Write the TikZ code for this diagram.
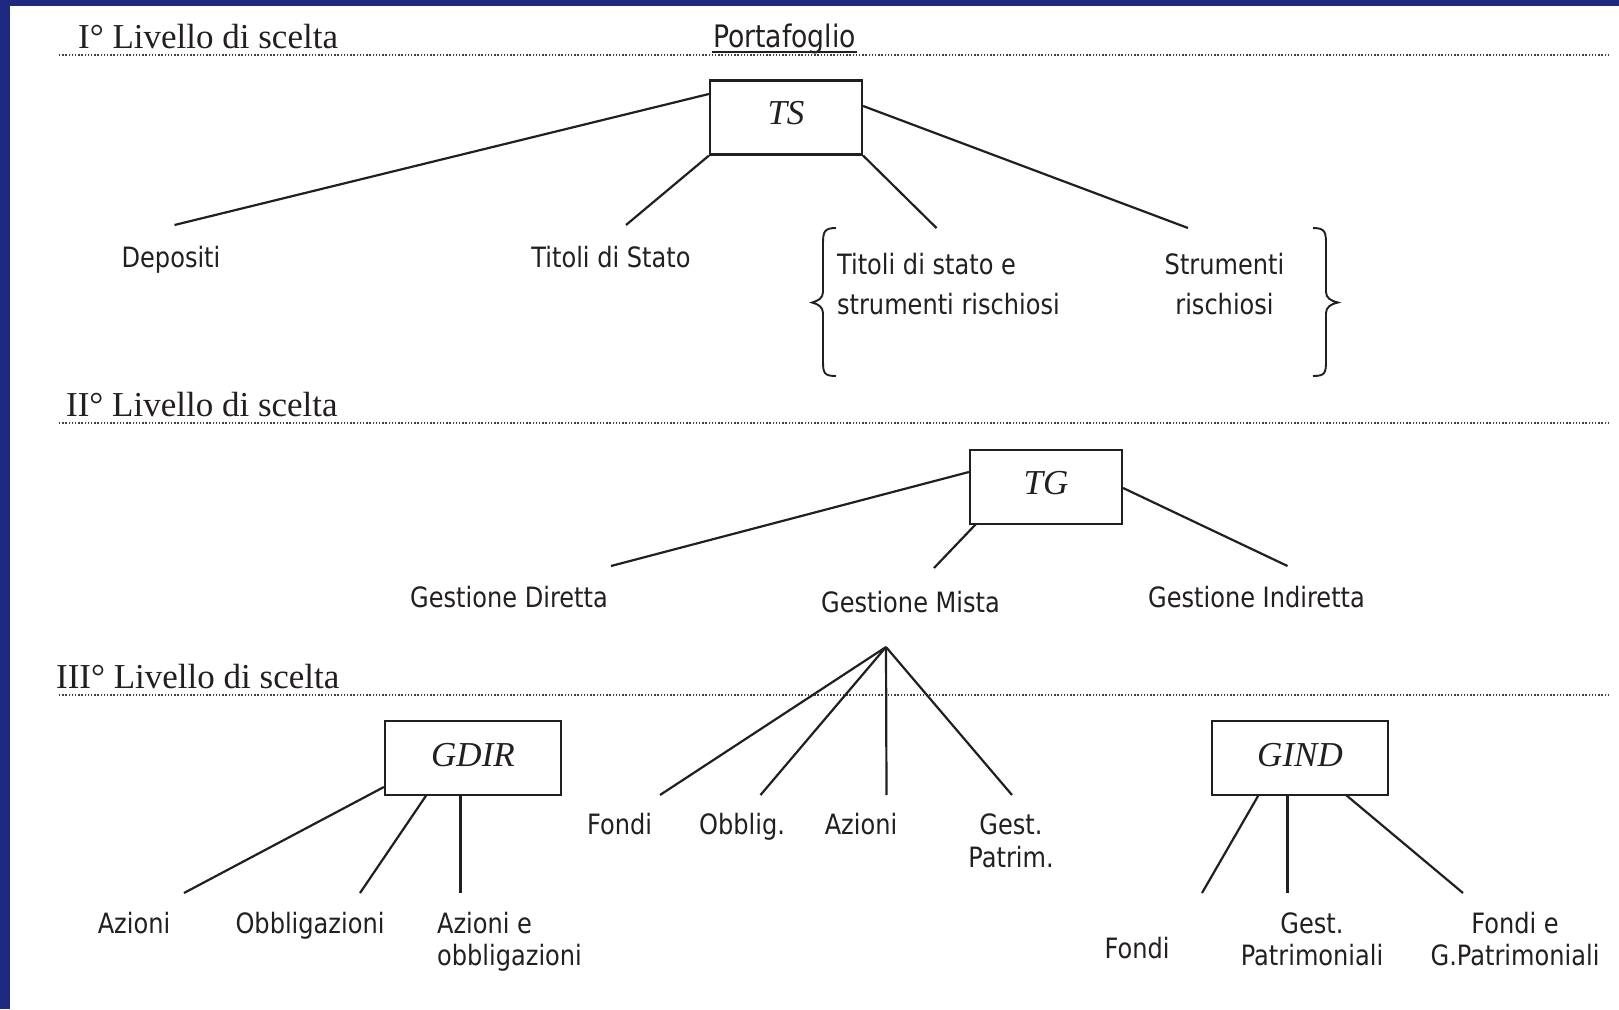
\documentclass[tikz,border=0pt]{standalone}
\usepackage{fontspec}
\setmainfont{Liberation Serif}
\newfontfamily\tsf[FakeStretch=0.86]{DejaVu Sans}
\usetikzlibrary{calc}
\definecolor{ink}{HTML}{231F20}
\definecolor{frame}{HTML}{1D2A80}
\begin{document}
\begin{tikzpicture}[x=1pt,y=-1pt,
  ink, line width=2.2pt,
  lvl/.style={anchor=base west, inner sep=0pt, font=\fontsize{35}{40}\selectfont, text=ink},
  sep/.style={draw=ink!85, line width=1.7pt, dash pattern=on 1.4pt off 1.8pt},
  lab/.style={anchor=base, inner sep=0pt, font=\tsf\fontsize{28}{33}\selectfont, text=ink, align=center},
  boxn/.style={draw=ink, line width=2.2pt, minimum width=#1, minimum height=74pt, inner sep=0pt},
  boxt/.style={anchor=base, inner sep=0pt, font=\itshape\fontsize{35}{40}\selectfont, text=ink}
]
\useasboundingbox (0,0) rectangle (1619,1009);
\fill[white] (0,0) rectangle (1619,1009);
\fill[frame] (0,0) rectangle (1619,6);
\fill[frame] (0,0) rectangle (10,1009);

% level labels and separators
\node[lvl] (l1) at (77,48.5) {I° Livello di scelta};
\draw[sep] (59,55) -- (1610,55);
\node[lvl] (l2) at (65,416) {II° Livello di scelta};
\draw[sep] (59,423) -- (1610,423);
\node[lvl] (l3) at (55,688) {III° Livello di scelta};
\draw[sep] (59,695) -- (1610,695);

\node[lab, font=\tsf\fontsize{31}{36}\selectfont] (port) at (784.5,47) {Portafoglio};
\draw[line width=2.8pt] ($(port.base west)+(0,5)$) -- ($(port.base east)+(0,5)$);

% Level I
\node[boxn=152pt] (ts) at (786,117.5) {};
\node[boxt] (tst) at (786,124) {TS};
\node[lab] (dep) at (171,267) {Depositi};
\node[lab] (tds) at (611,267) {Titoli di Stato};
\node[lab, anchor=base west, align=left, font=\tsf\fontsize{28}{39.5}\selectfont] (tse) at (836,314) {Titoli di stato e\\strumenti rischiosi};
\node[lab, font=\tsf\fontsize{28}{39.5}\selectfont] (str) at (1224.5,314) {Strumenti\\rischiosi};
\coordinate (c1) at (174.5,225);
\coordinate (c2) at (626,225);
\coordinate (c3) at (936.5,228);
\coordinate (c4) at (1188,228);
\draw (ts.west |- 0,94) -- (c1);
\draw (ts.south west) -- (c2);
\draw (ts.south east) -- (c3);
\draw (ts.east |- 0,106) -- (c4);
% braces
\draw[line width=1.9pt] (836,228) .. controls (824,228) and (823,232) .. (823,244) -- (823,292)
  .. controls (823,298) and (818,301) .. (812,302.5)
  .. controls (818,304) and (823,307) .. (823,313) -- (823,361)
  .. controls (823,373) and (824,376) .. (836,376);
\draw[line width=1.9pt] (1313,228) .. controls (1325,228) and (1326,232) .. (1326,244) -- (1326,292)
  .. controls (1326,298) and (1331,301) .. (1338,302.5)
  .. controls (1331,304) and (1326,307) .. (1326,313) -- (1326,361)
  .. controls (1326,373) and (1325,376) .. (1313,376);

% Level II
\node[boxn=152pt] (tg) at (1046,487) {};
\node[boxt] (tgt) at (1046,494) {TG};
\node[lab] (gd) at (509,607) {Gestione Diretta};
\node[lab] (gm) at (910.5,612) {Gestione Mista};
\node[lab] (gi) at (1256.5,607) {Gestione Indiretta};
\coordinate (d1) at (611,566);
\coordinate (d2) at (934,568);
\coordinate (d3) at (1287.5,566);
\draw (tg.west |- 0,472) -- (d1);
\draw (976,524) -- (d2);
\draw (tg.east |- 0,488) -- (d3);

% Level III - mista fan
\coordinate (fan) at (886,647);
\node[lab] (mf) at (619.5,834) {Fondi};
\node[lab] (mo) at (742,834) {Obblig.};
\node[lab] (ma) at (861,834) {Azioni};
\node[lab, font=\tsf\fontsize{28}{33}\selectfont] (mg) at (1011,867) {Gest.\\Patrim.};
\draw (fan) -- (660,795);
\draw (fan) -- (760.5,795);
\draw (fan) -- (886.5,795);
\draw (fan) -- (1012,795);

% GDIR
\node[boxn=176pt] (gdir) at (473,758) {};
\node[boxt] (gdirt) at (473,766) {GDIR};
\node[lab] (ra) at (134,933) {Azioni};
\node[lab] (ro) at (310,933) {Obbligazioni};
\node[lab, anchor=base west, align=left, font=\tsf\fontsize{28}{32}\selectfont] (rao) at (436,965) {Azioni e\\obbligazioni};
\draw (gdir.west |- 0,787) -- (184,893);
\draw (426.5,795) -- (360,893);
\draw (460.5,795) -- (460.5,893);

% GIND
\node[boxn=176pt] (gind) at (1300,758) {};
\node[boxt] (gindt) at (1300,766) {GIND};
\node[lab] (nf) at (1137,958) {Fondi};
\node[lab, font=\tsf\fontsize{28}{32}\selectfont] (ng) at (1312,965) {Gest.\\Patrimoniali};
\node[lab, font=\tsf\fontsize{28}{32}\selectfont] (nfg) at (1515,965) {Fondi e\\G.Patrimoniali};
\draw (1258.6,795) -- (1202,893);
\draw (1287.5,795) -- (1287.5,893);
\draw (1346,795) -- (1463,893);
\end{tikzpicture}
\end{document}
